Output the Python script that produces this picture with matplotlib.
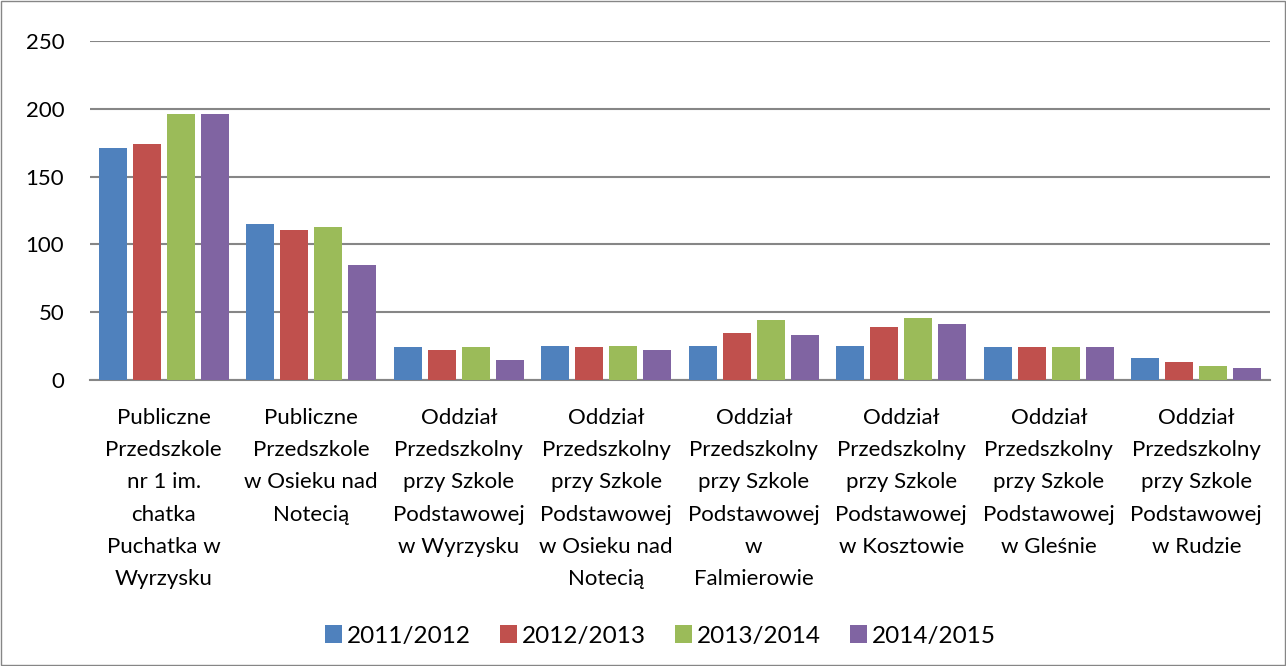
import numpy as np
import matplotlib
matplotlib.use("Agg")
import matplotlib.pyplot as plt
from matplotlib.patches import Rectangle

plt.rcParams['font.family'] = ['Lato', 'DejaVu Sans']

categories = [
    "Publiczne\nPrzedszkole\nnr 1 im.\nchatka\nPuchatka w\nWyrzysku",
    "Publiczne\nPrzedszkole\nw Osieku nad\nNotecią",
    "Oddział\nPrzedszkolny\nprzy Szkole\nPodstawowej\nw Wyrzysku",
    "Oddział\nPrzedszkolny\nprzy Szkole\nPodstawowej\nw Osieku nad\nNotecią",
    "Oddział\nPrzedszkolny\nprzy Szkole\nPodstawowej\nw\nFalmierowie",
    "Oddział\nPrzedszkolny\nprzy Szkole\nPodstawowej\nw Kosztowie",
    "Oddział\nPrzedszkolny\nprzy Szkole\nPodstawowej\nw Gleśnie",
    "Oddział\nPrzedszkolny\nprzy Szkole\nPodstawowej\nw Rudzie",
]
years = ["2011/2012", "2012/2013", "2013/2014", "2014/2015"]
v_2011 = [171, 115, 24, 25, 25, 25, 24, 16]
v_2012 = [174, 111, 22, 24, 35, 39, 24, 13]
v_2013 = [196, 113, 24, 25, 44, 46, 24, 10]
v_2014 = [196, 85, 15, 22, 33, 41, 24, 9]
colors = ["#4F81BD", "#C0504D", "#9BBB59", "#8064A2"]

fig = plt.figure(figsize=(12.86, 6.66), dpi=100)
fig.patches.append(Rectangle((0.0008, 0.0015), 0.9984, 0.997, transform=fig.transFigure,
                             fill=False, edgecolor="#868686", linewidth=1))
ax = fig.add_axes([0.07, 0.4294, 0.9176, 0.509])

x = np.arange(len(categories))
width = 0.19
step = 0.23
for i, (vals, lab, c) in enumerate(zip([v_2011, v_2012, v_2013, v_2014], years, colors)):
    ax.bar(x + (i - 1.5) * step, vals, width, color=c, label=lab, zorder=3)

ax.set_xlim(-0.5, len(categories) - 0.5)
ax.set_ylim(0, 250)
ax.set_yticks(range(0, 251, 50))
ax.yaxis.grid(True, color="#868686", linewidth=1.5, zorder=0)
ax.set_axisbelow(True)
for s in ["left", "right", "top"]:
    ax.spines[s].set_visible(False)
ax.spines["bottom"].set_color("#868686")
ax.spines["bottom"].set_linewidth(1.5)
ax.tick_params(axis="y", length=0, labelsize=16, pad=18.5)
ax.tick_params(axis="x", length=0, labelsize=16, pad=20)
ax.set_xticks(x)
ax.set_xticklabels(categories, linespacing=1.77, va="top")

fig.legend(loc="center", bbox_to_anchor=(660 / 1286, 1 - 636 / 666), ncol=4, frameon=False,
           fontsize=17.5, handlelength=0.7, handleheight=0.74, handletextpad=0.2,
           columnspacing=1.2)

fig.savefig("out.png", dpi=100)
